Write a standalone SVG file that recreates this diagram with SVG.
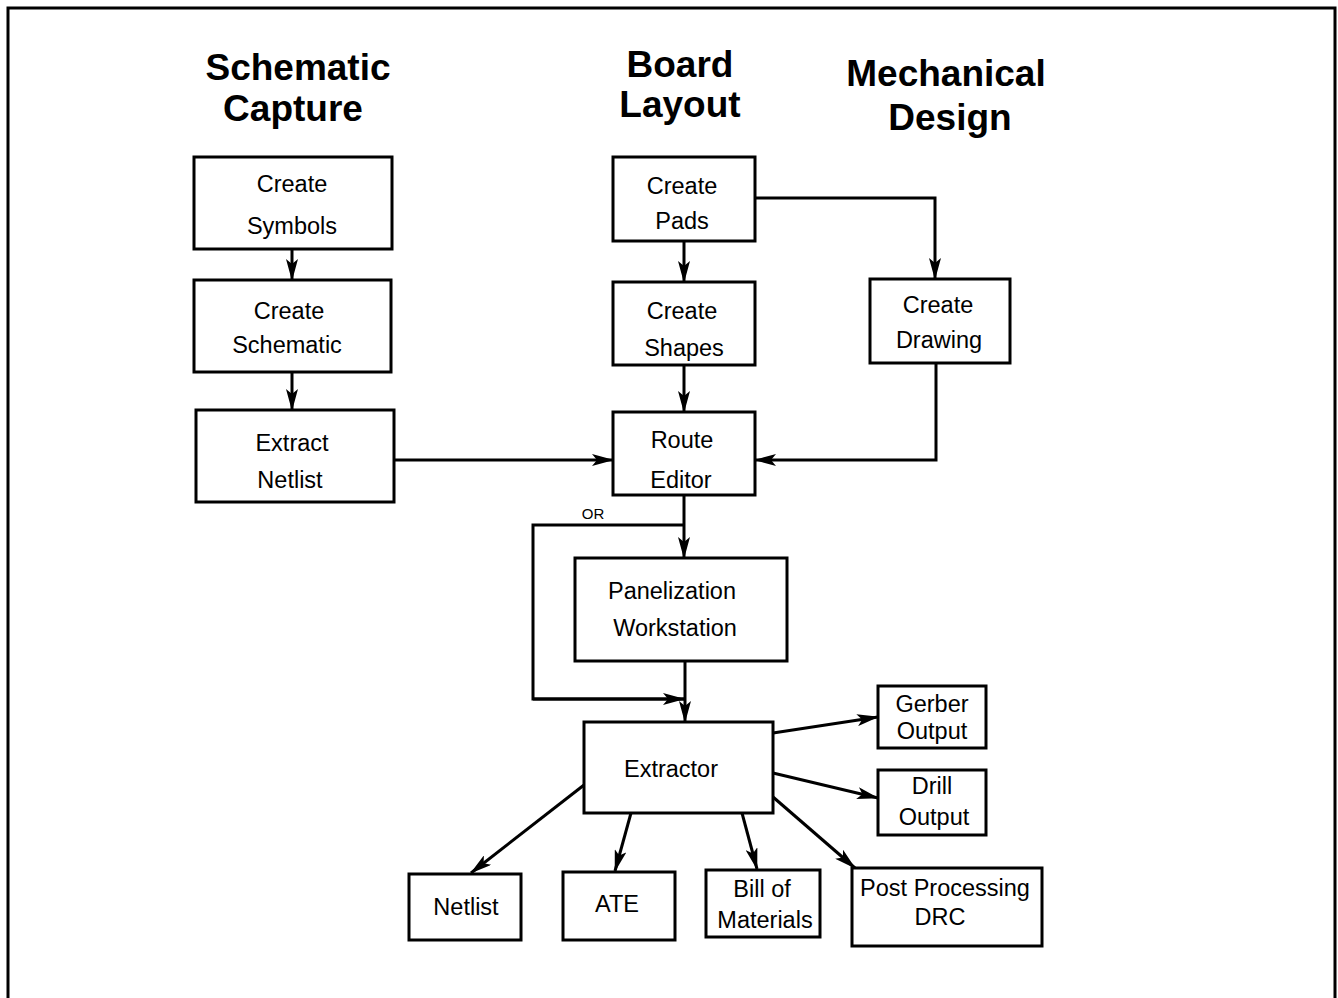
<svg xmlns="http://www.w3.org/2000/svg" width="1338" height="998" viewBox="0 0 1338 998">
<style>
.box{fill:#fff;stroke:#000;stroke-width:3}
.t{font-family:"Liberation Sans",Arial,sans-serif;font-size:23.5px;text-anchor:middle;fill:#000}
.h{font-family:"Liberation Sans",Arial,sans-serif;font-size:37px;font-weight:bold;text-anchor:middle;fill:#000}
.c{fill:none;stroke:#000;stroke-width:3;marker-end:url(#ah)}
.l{fill:none;stroke:#000;stroke-width:3}
</style>
<defs>
<marker id="ah" markerWidth="22" markerHeight="12" refX="21" refY="6" orient="auto" markerUnits="userSpaceOnUse">
<path d="M0,0 L22,6 L0,12 L5,6 Z" fill="#000"/>
</marker>
</defs>
<rect x="0" y="0" width="1338" height="998" fill="#fff"/>
<path d="M8,1010 L8,8 L1335,8 L1335,1010" fill="none" stroke="#000" stroke-width="3"/>
<g id="headers">
<text class="h" x="298" y="80">Schematic</text>
<text class="h" x="293" y="121">Capture</text>
<text class="h" x="680" y="77">Board</text>
<text class="h" x="680" y="117">Layout</text>
<text class="h" x="946" y="86">Mechanical</text>
<text class="h" x="950" y="130">Design</text>
</g>
<g id="connectors">
<path class="c" d="M292,249 L292,280"/>
<path class="c" d="M292,372 L292,410"/>
<path class="c" d="M394,460 L613,460"/>
<path class="c" d="M684,241 L684,282"/>
<path class="c" d="M684,365 L684,412"/>
<path class="c" d="M755,198 L935,198 L935,279"/>
<path class="c" d="M936,363 L936,460 L755,460"/>
<path class="c" d="M684,495 L684,558"/>
<path class="l" d="M684,525 L533,525 L533,699 L684,699"/>
<path class="c" d="M533,699 L684,699"/>
<path class="c" d="M685,661 L685,722"/>
<path class="c" d="M773,733 L878,717"/>
<path class="c" d="M773,773 L878,798"/>
<path class="c" d="M584,785 L471,873"/>
<path class="c" d="M631,813 L615,871"/>
<path class="c" d="M742,813 L757,869"/>
<path class="c" d="M773,797 L855,868"/>
<text x="593" y="519" style="font-family:'Liberation Sans',Arial,sans-serif;font-size:15px;text-anchor:middle">OR</text>
</g>
<g id="create-symbols"><rect class="box" x="194" y="157" width="198" height="92"/><text class="t" x="292" y="192">Create</text><text class="t" x="292" y="234">Symbols</text></g>
<g id="create-schematic"><rect class="box" x="194" y="280" width="197" height="92"/><text class="t" x="289" y="319">Create</text><text class="t" x="287" y="353">Schematic</text></g>
<g id="extract-netlist"><rect class="box" x="196" y="410" width="198" height="92"/><text class="t" x="292" y="451">Extract</text><text class="t" x="290" y="488">Netlist</text></g>
<g id="create-pads"><rect class="box" x="613" y="157" width="142" height="84"/><text class="t" x="682" y="194">Create</text><text class="t" x="682" y="229">Pads</text></g>
<g id="create-shapes"><rect class="box" x="613" y="282" width="142" height="83"/><text class="t" x="682" y="319">Create</text><text class="t" x="684" y="356">Shapes</text></g>
<g id="route-editor"><rect class="box" x="613" y="412" width="142" height="83"/><text class="t" x="682" y="448">Route</text><text class="t" x="681" y="488">Editor</text></g>
<g id="create-drawing"><rect class="box" x="870" y="279" width="140" height="84"/><text class="t" x="938" y="313">Create</text><text class="t" x="939" y="348">Drawing</text></g>
<g id="panelization"><rect class="box" x="575" y="558" width="212" height="103"/><text class="t" x="672" y="599">Panelization</text><text class="t" x="675" y="636">Workstation</text></g>
<g id="extractor"><rect class="box" x="584" y="722" width="189" height="91"/><text class="t" x="671" y="777">Extractor</text></g>
<g id="gerber"><rect class="box" x="878" y="686" width="108" height="62"/><text class="t" x="932" y="712">Gerber</text><text class="t" x="932" y="739">Output</text></g>
<g id="drill"><rect class="box" x="878" y="770" width="108" height="65"/><text class="t" x="932" y="794">Drill</text><text class="t" x="934" y="825">Output</text></g>
<g id="netlist"><rect class="box" x="409" y="874" width="112" height="66"/><text class="t" x="466" y="915">Netlist</text></g>
<g id="ate"><rect class="box" x="563" y="872" width="112" height="68"/><text class="t" x="617" y="912">ATE</text></g>
<g id="bom"><rect class="box" x="706" y="870" width="114" height="67"/><text class="t" x="762" y="897">Bill of</text><text class="t" x="765" y="928">Materials</text></g>
<g id="post"><rect class="box" x="852" y="868" width="190" height="78"/><text class="t" x="945" y="896">Post Processing</text><text class="t" x="940" y="925">DRC</text></g>
</svg>
